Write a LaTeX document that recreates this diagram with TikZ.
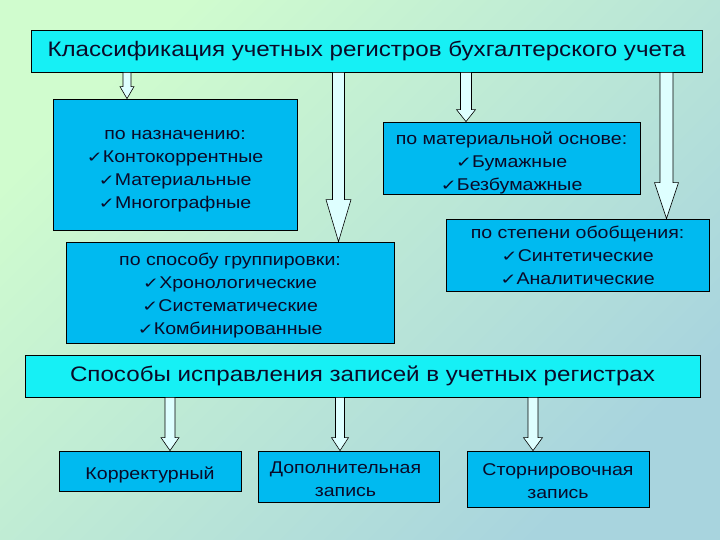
\documentclass[tikz,border=0pt]{standalone}
\usepackage{fontspec}
\setmainfont{Liberation Sans}[FakeStretch=1.15]
\newfontfamily\symfont{DejaVu Sans}[FakeStretch=1.3]
\usetikzlibrary{calc}
\definecolor{bgA}{RGB}{208,252,206}
\definecolor{bgB}{RGB}{168,212,222}
\definecolor{boxblue}{RGB}{0,186,240}
\definecolor{headcyan}{RGB}{22,240,245}
\definecolor{arrowfill}{RGB}{222,255,255}
\definecolor{txt}{RGB}{10,10,40}
\newcommand{\ck}{{\symfont\fontsize{15}{15}\selectfont ✓}}
\tikzset{
  box/.style={draw=black, line width=0.8pt, fill=boxblue, inner sep=0pt},
  boxtext/.style={inner sep=0pt, align=center, text=txt, font=\fontsize{17}{23}\selectfont},
  headbox/.style={box, fill=headcyan, align=center, text=txt, font=\fontsize{21}{25}\selectfont},
  barrow/.style n args={3}{draw=black, line width=0.6pt, fill=arrowfill,
    to path={let \p1=(\tikztostart), \p2=(\tikztotarget) in
      (\x1-#1,\y1) -- (\x1-#1,\y2+#3) -- (\x1-#2,\y2+#3) -- (\x1,\y2)
      -- (\x1+#2,\y2+#3) -- (\x1+#1,\y2+#3) -- (\x1+#1,\y1) -- cycle}}
}
\begin{document}
\begin{tikzpicture}[x=1pt,y=-1pt]
\shade[top color=bgA, bottom color=bgB, shading angle=45] (0,0) rectangle (720,540);
\useasboundingbox (0,0) rectangle (720,540);

\node[headbox, minimum width=671pt, minimum height=42pt] (title) at (366.5,51)
  {Классификация учетных регистров бухгалтерского учета};

\node[box, minimum width=244pt, minimum height=131pt] (b1) at (175,164.5) {};
\node[boxtext] (b1t) at ([yshift=-7pt]b1.center)
  {по назначению:\\ \ck Контокоррентные\\ \ck Материальные\\ \ck Многографные};
\node[box, minimum width=328pt, minimum height=101pt] (b2) at (230,292.5) {};
\node[boxtext] (b2t) at ([yshift=-3pt]b2.center)
  {по способу группировки:\\ \ck Хронологические\\ \ck Систематические\\ \ck Комбинированные};
\node[box, minimum width=257pt, minimum height=72pt] (b3) at (511.5,158) {};
\node[boxtext] (b3t) at ([yshift=-4.5pt]b3.center)
  {по материальной основе:\\ \ck Бумажные\\ \ck Безбумажные};
\node[box, minimum width=263pt, minimum height=72pt] (b4) at (577.5,255) {};
\node[boxtext] (b4t) at (b4.center)
  {по степени обобщения:\\ \ck Синтетические\\ \ck Аналитические};

\node[headbox, minimum width=675pt, minimum height=42pt] (fix) at (362.5,376)
  {Способы исправления записей в учетных регистрах};

\node[box, minimum width=182pt, minimum height=40pt] (c1) at (150,471) {};
\node[boxtext] (c1t) at ([yshift=-3.5pt]c1.center) {Корректурный};
\node[box, minimum width=181pt, minimum height=51pt] (c2) at (348.5,476.5) {};
\node[boxtext] (c2t) at ([xshift=-3pt,yshift=-3pt]c2.center) {Дополнительная\\запись};
\node[box, minimum width=182pt, minimum height=56pt] (c3) at (558,479) {};
\node[boxtext] (c3t) at ([yshift=-2pt]c3.center) {Сторнировочная\\запись};

\coordinate (x1) at (127,0);
\coordinate (x2) at (338.5,0);
\coordinate (x3) at (466,0);
\coordinate (x4) at (666.5,0);
\coordinate (x5) at (170,0);
\coordinate (x6) at (340,0);
\coordinate (x7) at (533,0);

\draw[barrow={4pt}{7pt}{12pt}] (title.south -| x1) to (b1.north -| x1);
\draw[barrow={6pt}{12.5pt}{42pt}] (title.south -| x2) to (b2.north -| x2);
\draw[barrow={5.5pt}{9.5pt}{12pt}] (title.south -| x3) to (b3.north -| x3);
\draw[barrow={6.5pt}{12pt}{36pt}] (title.south -| x4) to (b4.north -| x4);

\draw[barrow={5pt}{9pt}{13pt}] (fix.south -| x5) to (c1.north -| x5);
\draw[barrow={4.5pt}{8.5pt}{13pt}] (fix.south -| x6) to (c2.north -| x6);
\draw[barrow={5pt}{9.5pt}{13pt}] (fix.south -| x7) to (c3.north -| x7);
\end{tikzpicture}
\end{document}
